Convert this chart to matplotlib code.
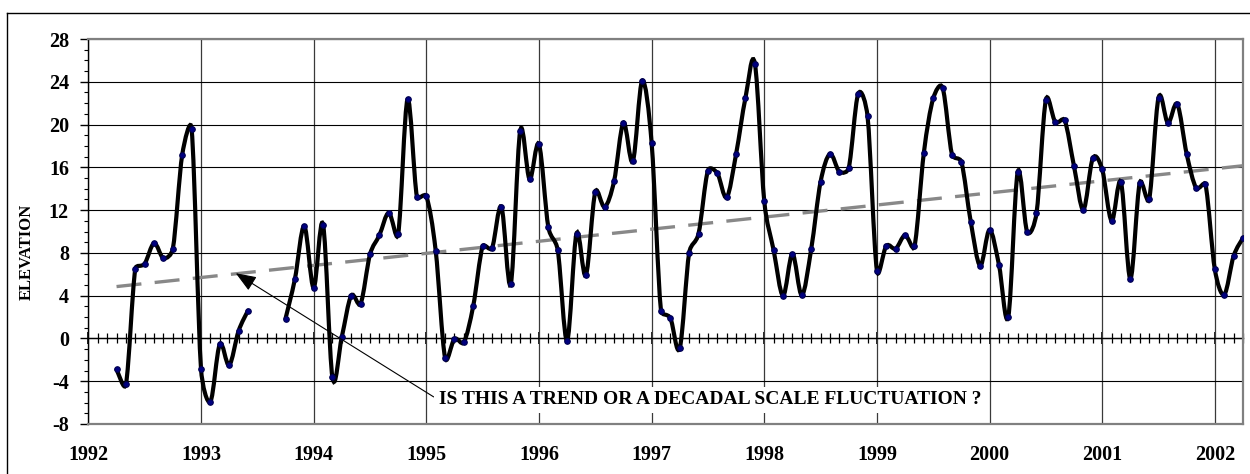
import numpy as np
import matplotlib
matplotlib.use("Agg")
import matplotlib.pyplot as plt
from matplotlib.path import Path
from matplotlib.patches import PathPatch
from matplotlib.lines import Line2D
from matplotlib.ticker import MultipleLocator

plt.rcParams['font.family'] = ['Liberation Serif', 'DejaVu Serif']
plt.rcParams['font.weight'] = 'bold'
plt.rcParams['axes.unicode_minus'] = False

# monthly readings, month 0 = January 1992 (Jul-Sep 1993 missing)
months = np.arange(3, 124)
elevation = [
    -2.9, -4.3, 6.5, 7.0, 8.9, 7.5, 8.4, 17.2, 19.6,          # 1992
    -2.85, -5.9, -0.55, -2.5, 0.7, 2.6, None, None, None,
    1.85, 5.55, 10.5,                                          # 1993
    4.75, 10.65, -3.65, 0.15, 4.0, 3.25, 7.85, 9.65, 11.75,
    9.75, 22.35, 13.25,                                        # 1994
    13.3, 8.2, -1.8, -0.05, -0.35, 3.05, 8.6, 8.45, 12.3,
    5.1, 19.4, 14.9,                                           # 1995
    18.15, 10.4, 8.25, -0.2, 9.8, 5.9, 13.7, 12.3, 14.7,
    20.15, 16.55, 24.1,                                        # 1996
    18.3, 2.6, 1.9, -0.9, 8.0, 9.8, 15.7, 15.45, 13.2,
    17.25, 22.5, 25.7,                                         # 1997
    12.85, 8.25, 4.0, 7.9, 4.05, 8.35, 14.65, 17.25, 15.6,
    15.95, 22.85, 20.8,                                        # 1998
    6.35, 8.65, 8.4, 9.65, 8.6, 17.35, 22.45, 23.45, 17.2,
    16.5, 10.9, 6.8,                                           # 1999
    10.15, 6.9, 2.05, 15.55, 10.0, 11.7, 22.3, 20.25, 20.4,
    16.1, 12.05, 16.85,                                        # 2000
    15.8, 11.0, 14.6, 5.6, 14.55, 13.0, 22.5, 20.15, 21.9,
    17.25, 14.1, 14.4,                                         # 2001
    6.45, 4.1, 7.7, 9.4,                                       # 2002
]
trend_months = [3, 123]
trend_elev = [4.85, 16.15]
years = list(range(1992, 2003))


def smooth_path(pts):
    # excel style smoothed line, worked out in pixel space
    n = len(pts)
    verts = [tuple(pts[0])]
    codes = [Path.MOVETO]
    for i in range(n - 1):
        p0 = pts[i - 1] if i > 0 else pts[i]
        p1 = pts[i]
        p2 = pts[i + 1]
        p3 = pts[i + 2] if i + 2 < n else pts[i + 1]
        d02 = np.hypot(*(p2 - p0))
        d12 = np.hypot(*(p2 - p1))
        d13 = np.hypot(*(p3 - p1))
        f1 = 1 / 6 if d02 / 6 < d12 / 2 else d12 / (2 * d02)
        f2 = 1 / 6 if d13 / 6 < d12 / 2 else d12 / (2 * d13)
        c1 = p1 + (p2 - p0) * f1
        c2 = p2 - (p3 - p1) * f2
        verts += [tuple(c1), tuple(c2), tuple(p2)]
        codes += [Path.CURVE4] * 3
    return Path(verts, codes)


x = 1992 + months / 12
y = np.array([np.nan if v is None else v for v in elevation])

fig = plt.figure(figsize=(12.5, 4.74), dpi=100)
ax = fig.add_axes([0.0707, 0.1055, 0.9237, 0.8122])

ax.set_xlim(1992, 1992 + 123 / 12)
ax.set_ylim(-8, 28)

# smoothed line, broken where months are missing
ok = ~np.isnan(y)
start = None
for i in range(len(y) + 1):
    if i < len(y) and ok[i]:
        if start is None:
            start = i
    elif start is not None:
        disp = ax.transData.transform(np.column_stack([x[start:i], y[start:i]]))
        p = smooth_path(disp)
        p = ax.transData.inverted().transform_path(p)
        ax.add_patch(PathPatch(p, facecolor='none', edgecolor='black',
                               lw=3.0, zorder=4, capstyle='round'))
        start = None
ax.plot(x, y, ls='none', marker='o', ms=4, mfc='#000080', mec='#000050',
        mew=0.8, zorder=5)

ax.plot(1992 + np.array(trend_months) / 12, trend_elev, color='#888888',
        lw=2.4, dashes=(7.5, 4.0), zorder=3)

# grid and frame
ax.set_yticks(range(-8, 29, 4))
ax.yaxis.set_minor_locator(MultipleLocator(1))
ax.set_xticks(years)
ax.grid(axis='y', which='major', color='black', lw=0.8, zorder=1)
ax.grid(axis='x', which='major', color='#3a3a3a', lw=0.9, zorder=1)
for s in ['top', 'right', 'bottom']:
    ax.spines[s].set_color('#808080')
    ax.spines[s].set_linewidth(1.6)
ax.spines['left'].set_color('black')
ax.spines['left'].set_linewidth(1.0)

ax.tick_params(axis='y', which='major', direction='out', length=6, width=1,
               pad=8, labelsize=14.5)
ax.tick_params(axis='y', which='minor', direction='out', length=3, width=0.8)
ax.tick_params(axis='x', which='major', length=0, pad=15, labelsize=14.5)
ax.set_ylabel('ELEVATION', fontsize=12, fontweight='bold')
ax.yaxis.set_label_coords(-0.046, 0.447)

# horizontal axis crossing at zero
sec = ax.secondary_xaxis(8 / 36)
sec.set_xticks(years, labels=[])
sec.xaxis.set_minor_locator(MultipleLocator(1 / 12))
sec.tick_params(which='major', direction='inout', length=9, width=1.2)
sec.tick_params(which='minor', direction='inout', length=7, width=0.9)
for s in sec.spines.values():
    s.set_color('black')
    s.set_linewidth(1.0)

ax.annotate('IS THIS A TREND OR A DECADAL SCALE FLUCTUATION ?',
            xy=(1992 + 15.7 / 12, 6.1), xytext=(1992 + 37.3 / 12, -5.75),
            fontsize=14, fontweight='bold', ha='left', va='center', zorder=6,
            bbox=dict(boxstyle='square,pad=0.25', fc='white', ec='none'),
            arrowprops=dict(arrowstyle='-|>,head_length=0.9,head_width=0.35',
                            color='black', lw=0.8, shrinkA=0, shrinkB=0,
                            relpos=(0, 0.5)))

# outer chart border (cut at right and bottom)
fx = 7 / 1250
fy = 1 - 13 / 474
fig.add_artist(Line2D([fx, 1.0], [fy, fy], color='black', lw=1.0))
fig.add_artist(Line2D([fx, fx], [0.0, fy], color='black', lw=1.0))

fig.savefig('out.png', dpi=100)
